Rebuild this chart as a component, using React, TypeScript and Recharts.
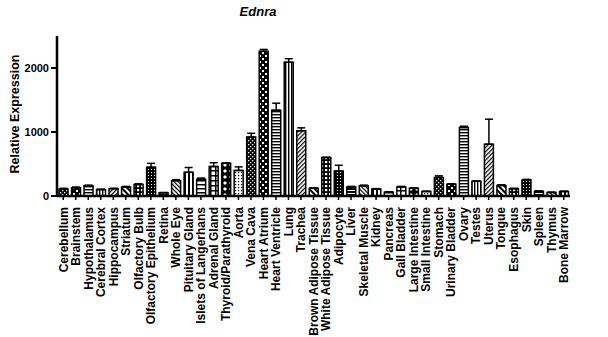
import { BarChart, Bar, XAxis, YAxis, ErrorBar, Cell } from 'recharts';

const tissues = [
  'Cerebellum', 'Brainstem', 'Hypothalamus', 'Cerebral Cortex', 'Hippocampus', 'Striatum',
  'Olfactory Bulb', 'Olfactory Epithelium', 'Retina', 'Whole Eye', 'Pituitary Gland',
  'Islets of Langerhans', 'Adrenal Gland', 'Thyroid/Parathyroid', 'Aorta', 'Vena Cava',
  'Heart Atrium', 'Heart Ventricle', 'Lung', 'Trachea', 'Brown Adipose Tissue',
  'White Adipose Tissue', 'Adipocyte', 'Liver', 'Skeletal Muscle', 'Kidney', 'Pancreas',
  'Gall Bladder', 'Large Intestine', 'Small Intestine', 'Stomach', 'Urinary Bladder',
  'Ovary', 'Testes', 'Uterus', 'Tongue', 'Esophagus', 'Skin', 'Spleen', 'Thymus', 'Bone Marrow',
];

const expression = [
  110, 130, 160, 100, 115, 140, 180, 450, 50, 240, 370, 260, 460, 510, 400, 920,
  2260, 1340, 2090, 1020, 120, 600, 390, 140, 160, 110, 60, 140, 120, 70, 290, 185,
  1070, 230, 810, 165, 115, 250, 75, 55, 70,
];

const sem = [
  10, 10, 10, 5, 5, 10, 10, 60, 5, 15, 75, 20, 60, 5, 55, 60,
  30, 110, 55, 45, 5, 5, 90, 10, 10, 5, 5, 10, 5, 5, 25, 5,
  20, 5, 390, 10, 5, 10, 5, 5, 5,
];

const yTicks = [0, 1000, 2000];

const data = tissues.map((name, i) => ({ name, value: expression[i], err: [0, sem[i]] }));

const font = '"Liberation Sans", Arial, sans-serif';

const TissueTick = (props: any) => {
  const { x, y, payload } = props;
  return (
    <text
      x={x}
      y={y + 5}
      transform={`rotate(-90, ${x}, ${y + 5})`}
      textAnchor="end"
      dy="0.36em"
      fontFamily={font}
      fontWeight="bold"
      fontSize={12}
      fill="#000"
    >
      {payload.value}
    </text>
  );
};

const Patterns = () => (
  <defs>
    <pattern id="pt0" width="4" height="4" patternUnits="userSpaceOnUse">
      <rect width="4" height="4" fill="#000" />
      <rect x="0" y="0" width="1.3" height="1.3" fill="#fff" />
      <rect x="2" y="2" width="1.3" height="1.3" fill="#fff" />
    </pattern>
    <pattern id="pt1" width="6" height="6" patternUnits="userSpaceOnUse">
      <rect width="6" height="6" fill="#000" />
      <rect x="1" y="1" width="2" height="2" fill="#fff" />
      <rect x="4" y="4" width="2" height="2" fill="#fff" />
    </pattern>
    <pattern id="pt2" width="4" height="3" patternUnits="userSpaceOnUse">
      <rect width="4" height="3" fill="#fff" />
      <rect y="0" width="4" height="1.4" fill="#000" />
    </pattern>
    <pattern id="pt3" width="3" height="4" patternUnits="userSpaceOnUse">
      <rect width="3" height="4" fill="#fff" />
      <rect x="0" width="1.4" height="4" fill="#000" />
    </pattern>
    <pattern id="pt4" width="3" height="3" patternUnits="userSpaceOnUse" patternTransform="rotate(45)">
      <rect width="3" height="3" fill="#fff" />
      <rect width="1.2" height="3" fill="#000" />
    </pattern>
    <pattern id="pt5" width="4" height="4" patternUnits="userSpaceOnUse" patternTransform="rotate(-45)">
      <rect width="4" height="4" fill="#fff" />
      <rect width="2" height="4" fill="#000" />
    </pattern>
    <pattern id="pt6" width="4" height="4" patternUnits="userSpaceOnUse">
      <rect width="4" height="4" fill="#000" />
      <rect x="1" y="1" width="2.2" height="2.2" fill="#fff" />
    </pattern>
    <pattern id="pt7" width="3" height="3" patternUnits="userSpaceOnUse">
      <rect width="3" height="3" fill="#000" />
      <rect x="1" y="1" width="1" height="1" fill="#fff" />
    </pattern>
    <pattern id="pt8" width="4" height="3" patternUnits="userSpaceOnUse">
      <rect width="4" height="3" fill="#000" />
      <rect y="1" width="4" height="1" fill="#fff" />
    </pattern>
    <pattern id="pt9" width="3" height="3" patternUnits="userSpaceOnUse" patternTransform="rotate(-45)">
      <rect width="3" height="3" fill="#fff" />
      <rect width="1.2" height="3" fill="#000" />
    </pattern>
    <pattern id="pt10" width="4" height="4" patternUnits="userSpaceOnUse">
      <rect width="4" height="4" fill="#fff" />
      <rect width="2" height="4" fill="#000" />
    </pattern>
    <pattern id="pt11" width="4" height="4" patternUnits="userSpaceOnUse">
      <rect width="4" height="4" fill="#fff" />
      <rect width="4" height="1.5" fill="#000" />
    </pattern>
    <pattern id="pt12" width="5" height="5" patternUnits="userSpaceOnUse">
      <rect width="5" height="5" fill="#fff" />
      <rect width="5" height="1.5" fill="#000" />
      <rect width="1.5" height="5" fill="#000" />
    </pattern>
    <pattern id="pt13" width="6" height="6" patternUnits="userSpaceOnUse">
      <rect width="6" height="6" fill="#000" />
      <path d="M3 1 L5 3 L3 5 L1 3 Z" fill="#fff" />
    </pattern>
    <pattern id="pt14" width="3" height="3" patternUnits="userSpaceOnUse">
      <rect width="3" height="3" fill="#fff" />
      <rect x="1" y="1" width="1.2" height="1.2" fill="#000" />
    </pattern>
  </defs>
);

const App = () => {
  return (
    <div style={{ position: 'absolute', left: 0, top: 0, width: 608, height: 337, background: '#fff' }}>
      <BarChart
        width={608}
        height={337}
        data={data}
        margin={{ top: 36, right: 38, left: 0, bottom: 0 }}
        barCategoryGap="16%"
      >
        <Patterns />
        <text
          x={258}
          y={16}
          textAnchor="middle"
          fontFamily={font}
          fontWeight="bold"
          fontStyle="italic"
          fontSize={13}
          fill="#000"
        >
          Ednra
        </text>
        <text
          x={19}
          y={114}
          transform="rotate(-90, 19, 114)"
          textAnchor="middle"
          fontFamily={font}
          fontWeight="bold"
          fontSize={12.5}
          fill="#000"
        >
          Relative Expression
        </text>
        <XAxis
          dataKey="name"
          interval={0}
          height={141}
          tick={<TissueTick />}
          tickSize={4}
          axisLine={{ stroke: '#000', strokeWidth: 2.5 }}
          tickLine={{ stroke: '#000', strokeWidth: 1.5 }}
        />
        <YAxis
          width={57}
          domain={[0, 2500]}
          ticks={yTicks}
          tickSize={6}
          allowDataOverflow
          axisLine={{ stroke: '#000', strokeWidth: 2.5 }}
          tickLine={{ stroke: '#000', strokeWidth: 2 }}
          tick={{ fontFamily: font, fontWeight: 'bold', fontSize: 11, fill: '#000' }}
        />
        <Bar dataKey="value" stroke="#000" strokeWidth={1.5} isAnimationActive={false}>
          {data.map((d, i) => (
            <Cell key={d.name} fill={`url(#pt${i % 15})`} />
          ))}
          <ErrorBar dataKey="err" direction="y" width={4} stroke="#000" strokeWidth={1.5} />
        </Bar>
      </BarChart>
    </div>
  );
};

export default App;
